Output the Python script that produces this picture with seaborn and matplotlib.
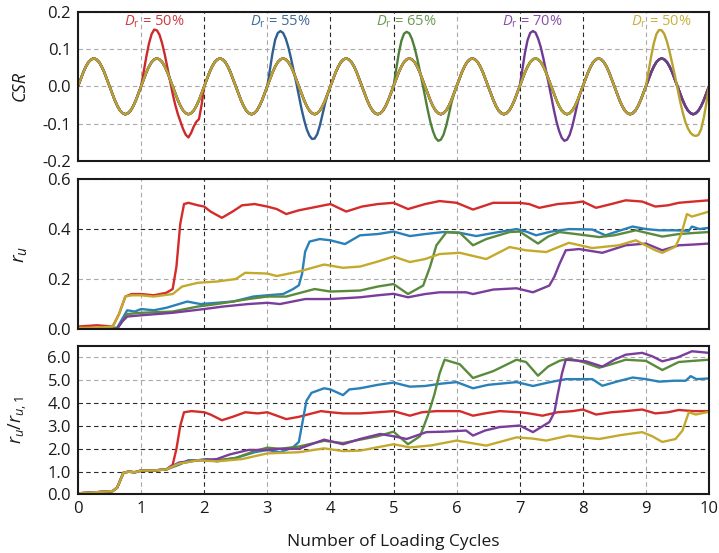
import numpy as np
import pandas as pd
import matplotlib
matplotlib.use("Agg")
import matplotlib.pyplot as plt
import seaborn as sns

# ---------------- data ----------------
series_names = ["Dr50", "Dr55", "Dr65", "Dr70", "Dr50b"]
label_texts = [r"$D_\mathrm{r}$ = 50%", r"$D_\mathrm{r}$ = 55%", r"$D_\mathrm{r}$ = 65%",
               r"$D_\mathrm{r}$ = 70%", r"$D_\mathrm{r}$ = 50%"]
label_x = [1.2, 3.2, 5.2, 7.2, 9.25]

csr_base = [0.0, 0.019, 0.0375, 0.053, 0.065, 0.072, 0.075, 0.072, 0.065, 0.053, 0.0375, 0.019,
            0.0, -0.019, -0.0375, -0.053, -0.065, -0.072, -0.075, -0.072, -0.065, -0.053, -0.0375, -0.019]
csr_red_big = [0.0, 0.04, 0.08, 0.115, 0.14, 0.152, 0.15, 0.138, 0.115, 0.085, 0.05, 0.015,
               -0.02, -0.05, -0.075, -0.095, -0.115, -0.13, -0.137, -0.125, -0.108, -0.095, -0.088, -0.05]
csr_blue_big = [0.0, 0.045, 0.09, 0.125, 0.143, 0.148, 0.143, 0.128, 0.105, 0.075, 0.043, 0.01,
                -0.025, -0.06, -0.09, -0.115, -0.132, -0.141, -0.14, -0.128, -0.105, -0.075, -0.045, -0.02]
csr_green_big = [0.0, 0.045, 0.088, 0.122, 0.141, 0.146, 0.142, 0.127, 0.104, 0.075, 0.042, 0.008,
                 -0.028, -0.063, -0.095, -0.12, -0.138, -0.146, -0.143, -0.13, -0.107, -0.077, -0.045, -0.02]
csr_purple_big = [0.0, 0.045, 0.09, 0.124, 0.143, 0.148, 0.144, 0.128, 0.105, 0.075, 0.042, 0.008,
                  -0.028, -0.063, -0.095, -0.12, -0.138, -0.146, -0.143, -0.13, -0.107, -0.077, -0.045, -0.02]
csr_yellow_big = [0.0, 0.04, 0.08, 0.115, 0.14, 0.151, 0.15, 0.14, 0.12, 0.093, 0.062, 0.03,
                  -0.005, -0.04, -0.07, -0.095, -0.113, -0.125, -0.131, -0.133, -0.13, -0.115, -0.085, -0.045]
csr_end = [0.0]
# which cycle (0..9) carries the large-amplitude loading for each series
csr_big_cycle = [1, 3, 5, 7, 9]
csr_big_shapes = [csr_red_big, csr_blue_big, csr_green_big, csr_purple_big, csr_yellow_big]
samples_per_cycle = 24
n_cycles = 10

# r_u (middle panel)
ru_red_x = [0, 0.3, 0.55, 0.65, 0.75, 0.85, 1.0, 1.2, 1.4, 1.5, 1.56, 1.62, 1.68, 1.75, 1.9, 2.0, 2.1, 2.28, 2.45,
            2.6, 2.8, 3.0, 3.15, 3.3, 3.5, 3.8, 4.0, 4.25, 4.5, 4.75, 5.0, 5.23, 5.5, 5.73, 6.0, 6.26, 6.58, 7.0,
            7.15, 7.31, 7.6, 7.85, 8.0, 8.21, 8.45, 8.68, 8.94, 9.15, 9.35, 9.52, 9.75, 10.0]
ru_red_y = [0.01, 0.015, 0.01, 0.06, 0.13, 0.14, 0.14, 0.135, 0.145, 0.16, 0.25, 0.42, 0.5, 0.505, 0.495, 0.49,
            0.47, 0.445, 0.47, 0.495, 0.5, 0.49, 0.48, 0.46, 0.475, 0.49, 0.5, 0.47, 0.49, 0.5, 0.505, 0.48, 0.5,
            0.512, 0.505, 0.478, 0.505, 0.505, 0.5, 0.485, 0.5, 0.505, 0.51, 0.485, 0.5, 0.515, 0.51, 0.49,
            0.495, 0.505, 0.51, 0.515]
ru_blue_x = [0, 0.3, 0.62, 0.7, 0.78, 0.9, 1.0, 1.2, 1.4, 1.6, 1.73, 1.94, 2.2, 2.46, 2.78, 3.0, 3.25, 3.41, 3.5,
             3.55, 3.6, 3.67, 3.83, 4.0, 4.23, 4.47, 4.75, 5.0, 5.26, 5.5, 5.79, 6.05, 6.31, 6.6, 6.95, 7.1, 7.26,
             7.5, 7.78, 8.15, 8.36, 8.6, 8.79, 9.0, 9.21, 9.45, 9.68, 9.73, 9.85, 10.0]
ru_blue_y = [0.0, 0.0, 0.005, 0.04, 0.075, 0.07, 0.08, 0.075, 0.085, 0.1, 0.11, 0.1, 0.105, 0.11, 0.13, 0.135,
             0.14, 0.16, 0.175, 0.22, 0.31, 0.35, 0.36, 0.355, 0.34, 0.375, 0.38, 0.39, 0.372, 0.38, 0.388,
             0.385, 0.372, 0.385, 0.4, 0.39, 0.375, 0.39, 0.4, 0.398, 0.375, 0.395, 0.41, 0.4, 0.395, 0.395,
             0.393, 0.41, 0.4, 0.405]
ru_green_x = [0, 0.3, 0.62, 0.7, 0.78, 1.0, 1.5, 1.9, 2.2, 2.7, 3.0, 3.3, 3.75, 4.0, 4.47, 4.75, 5.0, 5.23, 5.47,
              5.58, 5.68, 5.84, 6.05, 6.26, 6.47, 6.84, 7.0, 7.29, 7.45, 7.63, 7.89, 8.26, 8.5, 8.84, 9.26, 9.52,
              9.8, 10.0]
ru_green_y = [0.0, 0.0, 0.005, 0.03, 0.06, 0.065, 0.07, 0.09, 0.1, 0.12, 0.13, 0.13, 0.16, 0.15, 0.154, 0.17,
              0.18, 0.14, 0.174, 0.25, 0.335, 0.388, 0.385, 0.335, 0.36, 0.388, 0.39, 0.342, 0.37, 0.388, 0.38,
              0.368, 0.375, 0.395, 0.37, 0.38, 0.385, 0.388]
ru_yellow_x = [0, 0.3, 0.55, 0.65, 0.75, 0.85, 1.0, 1.2, 1.5, 1.65, 1.9, 2.2, 2.5, 2.65, 3.0, 3.15, 3.5, 3.9, 4.2,
               4.47, 4.75, 5.0, 5.26, 5.5, 5.73, 6.05, 6.47, 6.84, 7.1, 7.42, 7.78, 8.15, 8.57, 8.84, 9.15, 9.26,
               9.47, 9.56, 9.65, 9.73, 10.0]
ru_yellow_y = [0.005, 0.005, 0.01, 0.06, 0.13, 0.135, 0.135, 0.13, 0.14, 0.17, 0.185, 0.19, 0.2, 0.225, 0.222,
               0.212, 0.23, 0.258, 0.245, 0.25, 0.27, 0.29, 0.268, 0.28, 0.3, 0.305, 0.28, 0.328, 0.315, 0.308,
               0.345, 0.324, 0.335, 0.355, 0.315, 0.305, 0.33, 0.38, 0.46, 0.45, 0.47]
ru_purple_x = [0, 0.3, 0.62, 0.7, 0.78, 1.0, 1.5, 2.0, 2.3, 2.7, 3.0, 3.2, 3.6, 4.0, 4.47, 4.75, 5.0, 5.23, 5.5,
               5.73, 6.15, 6.26, 6.58, 6.95, 7.21, 7.47, 7.55, 7.63, 7.73, 7.94, 8.31, 8.68, 9.0, 9.26, 9.52,
               9.75, 10.0]
ru_purple_y = [0.0, 0.0, 0.0, 0.03, 0.05, 0.055, 0.065, 0.08, 0.09, 0.1, 0.105, 0.1, 0.12, 0.12, 0.127, 0.135,
               0.141, 0.127, 0.14, 0.147, 0.147, 0.14, 0.158, 0.163, 0.147, 0.174, 0.21, 0.26, 0.315, 0.32, 0.305,
               0.335, 0.342, 0.315, 0.335, 0.338, 0.342]

# r_u / r_u,1 (bottom panel)
rr_red_x = [0, 0.3, 0.55, 0.62, 0.72, 0.8, 0.9, 1.0, 1.2, 1.4, 1.5, 1.56, 1.62, 1.68, 1.8, 2.0, 2.1, 2.28, 2.45,
            2.65, 2.85, 3.0, 3.15, 3.3, 3.5, 3.85, 4.0, 4.2, 4.47, 4.75, 5.0, 5.26, 5.45, 5.68, 6.05, 6.26, 6.45,
            6.68, 7.0, 7.15, 7.36, 7.6, 7.84, 8.0, 8.21, 8.45, 8.68, 8.94, 9.15, 9.35, 9.52, 9.75, 10.0]
rr_red_y = [0.05, 0.1, 0.15, 0.3, 0.95, 1.0, 0.98, 1.05, 1.05, 1.1, 1.3, 2.0, 3.0, 3.6, 3.65, 3.6, 3.5, 3.25,
            3.4, 3.6, 3.55, 3.6, 3.45, 3.3, 3.4, 3.65, 3.6, 3.55, 3.55, 3.6, 3.65, 3.45, 3.6, 3.65, 3.65, 3.45,
            3.55, 3.65, 3.6, 3.55, 3.45, 3.6, 3.65, 3.72, 3.5, 3.6, 3.65, 3.72, 3.55, 3.6, 3.7, 3.65, 3.65]
rr_blue_x = [0, 0.3, 0.55, 0.62, 0.72, 0.8, 0.9, 1.0, 1.2, 1.4, 1.6, 1.75, 1.9, 2.05, 2.2, 2.5, 2.8, 3.0, 3.2,
             3.4, 3.5, 3.56, 3.62, 3.7, 3.9, 4.0, 4.2, 4.3, 4.47, 4.75, 5.0, 5.26, 5.5, 5.75, 6.0, 6.26, 6.5,
             6.95, 7.21, 7.45, 7.73, 8.15, 8.31, 8.55, 8.79, 9.0, 9.21, 9.45, 9.63, 9.71, 9.8, 10.0]
rr_blue_y = [0.05, 0.1, 0.15, 0.3, 0.95, 1.0, 0.97, 1.05, 1.05, 1.1, 1.3, 1.5, 1.5, 1.55, 1.45, 1.6, 1.85, 1.95,
             1.85, 2.05, 2.3, 3.2, 4.1, 4.45, 4.65, 4.6, 4.35, 4.6, 4.65, 4.8, 4.9, 4.72, 4.75, 4.85, 4.92, 4.65,
             4.8, 4.92, 4.75, 4.9, 5.05, 5.05, 4.76, 4.95, 5.12, 5.05, 4.94, 4.98, 4.98, 5.18, 5.05, 5.08]
rr_green_x = [0, 0.3, 0.55, 0.62, 0.72, 0.8, 0.9, 1.0, 1.2, 1.4, 1.6, 1.9, 2.2, 2.5, 2.8, 3.0, 3.2, 3.5, 3.9, 4.2,
              4.47, 4.75, 5.0, 5.23, 5.42, 5.55, 5.65, 5.73, 5.81, 6.05, 6.26, 6.58, 6.95, 7.1, 7.29, 7.45, 7.63,
              7.78, 8.0, 8.26, 8.45, 8.68, 9.0, 9.26, 9.52, 9.75, 10.0]
rr_green_y = [0.05, 0.1, 0.15, 0.3, 0.95, 1.0, 0.97, 1.05, 1.05, 1.1, 1.35, 1.5, 1.5, 1.6, 1.9, 2.05, 2.0, 2.1,
              2.35, 2.25, 2.4, 2.55, 2.75, 2.2, 2.55, 3.5, 4.4, 5.3, 5.9, 5.7, 5.1, 5.4, 5.9, 5.8, 5.2, 5.6, 5.85,
              5.95, 5.8, 5.55, 5.7, 5.9, 5.85, 5.45, 5.8, 5.85, 5.9]
rr_yellow_x = [0, 0.3, 0.55, 0.62, 0.72, 0.8, 0.9, 1.0, 1.2, 1.4, 1.6, 1.9, 2.2, 2.6, 3.0, 3.5, 3.9, 4.2, 4.47,
               5.0, 5.26, 5.6, 6.0, 6.47, 6.95, 7.2, 7.42, 7.78, 8.0, 8.26, 8.6, 8.94, 9.1, 9.26, 9.47, 9.58,
               9.68, 9.79, 10.0]
rr_yellow_y = [0.05, 0.1, 0.15, 0.3, 0.95, 1.0, 0.97, 1.05, 1.05, 1.1, 1.35, 1.5, 1.45, 1.55, 1.8, 1.85, 2.02,
               1.9, 1.92, 2.2, 2.06, 2.15, 2.36, 2.14, 2.5, 2.45, 2.36, 2.58, 2.5, 2.43, 2.6, 2.73, 2.55, 2.3,
               2.43, 2.8, 3.6, 3.5, 3.62]
rr_purple_x = [0, 0.3, 0.55, 0.62, 0.72, 0.8, 0.9, 1.0, 1.2, 1.4, 1.6, 1.9, 2.2, 2.4, 2.7, 3.0, 3.2, 3.5, 3.9,
               4.2, 4.47, 4.79, 5.0, 5.21, 5.52, 5.8, 6.15, 6.26, 6.45, 6.68, 7.0, 7.21, 7.47, 7.55, 7.6, 7.67,
               7.73, 8.05, 8.31, 8.5, 8.68, 8.94, 9.1, 9.26, 9.5, 9.73, 10.0]
rr_purple_y = [0.05, 0.1, 0.15, 0.3, 0.95, 1.0, 0.97, 1.05, 1.05, 1.1, 1.4, 1.5, 1.55, 1.75, 1.95, 1.95, 2.0,
               2.0, 2.4, 2.2, 2.43, 2.65, 2.55, 2.43, 2.73, 2.75, 2.8, 2.58, 2.8, 2.95, 3.02, 2.73, 3.17, 3.6,
               4.35, 5.3, 5.9, 5.83, 5.6, 5.9, 6.12, 6.2, 6.05, 5.83, 6.0, 6.27, 6.2]

x_ticks = list(range(0, 11))
csr_ticks = [-0.2, -0.1, 0.0, 0.1, 0.2]
ru_ticks = [0.0, 0.2, 0.4, 0.6]
rr_ticks = [0.0, 1.0, 2.0, 3.0, 4.0, 5.0, 6.0]

# ---------------- styling ----------------
sns.set_theme(style="white")
plt.rcParams["font.family"] = ["Open Sans", "DejaVu Sans"]
plt.rcParams["mathtext.fontset"] = "custom"
plt.rcParams["mathtext.it"] = "Open Sans:italic"
plt.rcParams["mathtext.rm"] = "Open Sans"
plt.rcParams["mathtext.bf"] = "Open Sans:bold"

colors = ["#d42b2b", "#2a80b8", "#5a8a3c", "#7a3d9c", "#c4aa2c"]
colors_top = ["#cc2a2a", "#2f5f90", "#4e803a", "#6e3a92", "#b9a22e"]
label_colors = ["#cf3a40", "#416b98", "#6b9a52", "#8a4cab", "#c9b040"]
pal = dict(zip(series_names, colors))
pal_top = dict(zip(series_names, colors_top))

# build CSR long table
csr_rows = []
for k, name in enumerate(series_names):
    vals = []
    for c in range(n_cycles):
        vals += csr_big_shapes[k] if c == csr_big_cycle[k] else csr_base
    vals += csr_end
    xs = np.arange(len(vals)) / samples_per_cycle
    csr_rows.append(pd.DataFrame({"x": xs, "y": vals, "s": name}))
df_csr = pd.concat(csr_rows, ignore_index=True)


def long_df(xs_list, ys_list):
    parts = []
    for name, xs, ys in zip(series_names, xs_list, ys_list):
        assert len(xs) == len(ys), (name, len(xs), len(ys))
        parts.append(pd.DataFrame({"x": xs, "y": ys, "s": name}))
    return pd.concat(parts, ignore_index=True)


df_ru = long_df([ru_red_x, ru_blue_x, ru_green_x, ru_purple_x, ru_yellow_x],
                [ru_red_y, ru_blue_y, ru_green_y, ru_purple_y, ru_yellow_y])
df_rr = long_df([rr_red_x, rr_blue_x, rr_green_x, rr_purple_x, rr_yellow_x],
                [rr_red_y, rr_blue_y, rr_green_y, rr_purple_y, rr_yellow_y])

fig = plt.figure(figsize=(7.19, 5.53), dpi=100)
L, W = 0.1085, 0.8776
ax1 = fig.add_axes([L, 0.7089, W, 0.2700])
ax2 = fig.add_axes([L, 0.4050, W, 0.2712])
ax3 = fig.add_axes([L, 0.1058, W, 0.2685])

LW = 1.7
sns.lineplot(data=df_csr, x="x", y="y", hue="s", hue_order=series_names, palette=pal_top,
             estimator=None, sort=False, legend=False, lw=LW, ax=ax1)
sns.lineplot(data=df_ru, x="x", y="y", hue="s", hue_order=series_names, palette=pal,
             estimator=None, sort=False, legend=False, lw=LW, ax=ax2)
sns.lineplot(data=df_rr, x="x", y="y", hue="s", hue_order=series_names, palette=pal,
             estimator=None, sort=False, legend=False, lw=LW, ax=ax3)

for t, xx, c in zip(label_texts, label_x, label_colors):
    ax1.text(xx, 0.172, t, color=c, ha="center", va="center", fontsize=10.5)

dark = "#2a2a2a"
light = "#a8a8a8"
dark_x = {2, 4, 5, 7, 8}
dark_y = [set(), {0.4}, {1.0, 2.0, 3.0, 4.0}]

for ax, yt, ylim, fmt, dy in [(ax1, csr_ticks, (-0.2, 0.2), "{:.1f}", dark_y[0]),
                              (ax2, ru_ticks, (0.0, 0.6), "{:.1f}", dark_y[1]),
                              (ax3, rr_ticks, (0.0, 6.5), "{:.1f}", dark_y[2])]:
    ax.set_xlim(0, 10)
    ax.set_ylim(*ylim)
    ax.set_xticks(x_ticks)
    ax.set_yticks(yt)
    ax.set_yticklabels([fmt.format(v) for v in yt])
    ax.grid(True, linestyle=(0, (4, 3)), linewidth=0.8)
    for gl, v in zip(ax.get_xgridlines(), x_ticks):
        gl.set_color(dark if v in dark_x else light)
    for gl, v in zip(ax.get_ygridlines(), yt):
        gl.set_color(dark if round(v, 2) in dy else light)
    ax.set_axisbelow(True)
    for sp in ax.spines.values():
        sp.set_color("#1a1a1a")
        sp.set_linewidth(1.5)
    ax.tick_params(axis="both", length=0, pad=5, labelsize=12, colors="#1a1a1a")
    ax.set_xlabel("")
    ax.set_ylabel("")

ax1.set_xticklabels([])
ax2.set_xticklabels([])
ax3.set_xticklabels([str(v) for v in x_ticks])

ax1.set_ylabel("CSR", fontsize=13, fontstyle="italic", color="#1a1a1a")
ax2.set_ylabel(r"$r_u$", fontsize=14, color="#1a1a1a")
ax3.set_ylabel(r"$r_u/r_{u,1}$", fontsize=13, color="#1a1a1a")
for ax in (ax1, ax2, ax3):
    ax.yaxis.set_label_coords(-0.078, 0.5)
ax3.set_xlabel("Number of Loading Cycles", fontsize=12.5, color="#1a1a1a", labelpad=12)

fig.savefig("out.png", dpi=100)
